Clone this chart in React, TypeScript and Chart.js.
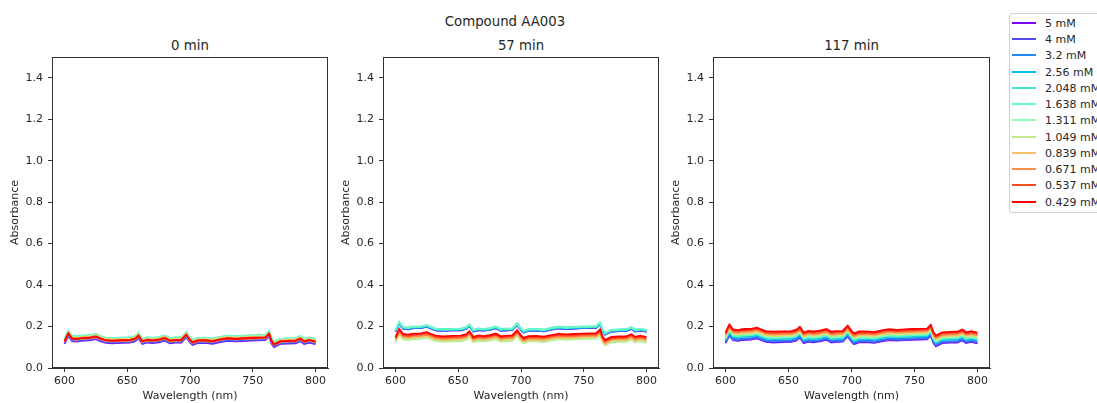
import React, { useEffect, useRef } from 'react';
import { Chart, registerables } from 'chart.js';

Chart.register(...registerables);

const FONT = "'DejaVu Sans', sans-serif";
const TEXT = '#262626';

// ---- data ----
const concentrations = ['5 mM', '4 mM', '3.2 mM', '2.56 mM', '2.048 mM', '1.638 mM', '1.311 mM', '1.049 mM', '0.839 mM', '0.671 mM', '0.537 mM', '0.429 mM'];
const seriesColors = ['#8000ff', '#5148fc', '#238af5', '#0cc1e8', '#3ae8d7', '#68fcc1', '#97fca7', '#c5e88a', '#f3c16a', '#ff8a48', '#ff4824', '#ff0000'];
const panelTitles = ['0 min', '57 min', '117 min'];

const wavelengths = [600, 603, 606, 610, 613, 616, 620, 625, 628, 632, 638, 645, 652, 656, 659, 662, 666, 670, 675, 680, 684, 688, 693, 697, 700, 702, 706, 712, 718, 724, 730, 736, 742, 748, 754, 760, 763, 765, 767, 772, 778, 784, 788, 791, 795, 800];
// spectrum at 0 min
const baseProfile = [0.128, 0.166, 0.142, 0.139, 0.143, 0.144, 0.145, 0.151, 0.143, 0.134, 0.131, 0.133, 0.134, 0.140, 0.155, 0.128, 0.135, 0.132, 0.136, 0.144, 0.131, 0.134, 0.135, 0.160, 0.135, 0.123, 0.132, 0.133, 0.129, 0.137, 0.143, 0.140, 0.142, 0.144, 0.145, 0.146, 0.164, 0.130, 0.113, 0.128, 0.130, 0.131, 0.141, 0.128, 0.134, 0.127];
// level of each concentration relative to that trace, per time point
const offsets0 = [-0.012, -0.009, -0.005, 0.008, 0.013, 0.012, 0.009, 0.007, 0.004, -0.003, 0.002, 0.0];
const offsets57 = [0.048, 0.048, 0.050, 0.052, 0.056, 0.054, -0.004, -0.002, 0.005, 0.010, 0.016, 0.022];
const offsets117 = [-0.008, -0.005, 0.0, 0.008, 0.012, 0.015, 0.020, 0.022, 0.027, 0.032, 0.038, 0.044];
const panelOffsets = [offsets0, offsets57, offsets117];

const xTicks = [600, 650, 700, 750, 800];
const yTicks = [0, 0.2, 0.4, 0.6, 0.8, 1.0, 1.2, 1.4];

// ---- layout ----
const W = 1097;
const H = 403;
const PLOT_TOP = 57;
const PLOT_BOTTOM = 368;
const AXIS_W = 52;
const panelLeft = [52, 383, 713];
const panelRight = [328, 659, 990];

const framePlugin = {
  id: 'frame',
  afterDraw(chart: any) {
    const { ctx, chartArea } = chart;
    ctx.save();
    ctx.strokeStyle = '#333';
    ctx.lineWidth = 1;
    ctx.strokeRect(Math.round(chartArea.left) + 0.5, Math.round(chartArea.top) + 0.5, Math.round(chartArea.right - chartArea.left) - 1, Math.round(chartArea.bottom - chartArea.top) - 1);
    ctx.restore();
  },
};

function Panel({ idx }: { idx: number }) {
  const ref = useRef<HTMLCanvasElement>(null);
  const cw = panelRight[idx] - panelLeft[idx] + AXIS_W + 2;
  useEffect(() => {
    const offs = panelOffsets[idx];
    const datasets = concentrations.map((c, i) => ({
      label: c,
      data: wavelengths.map((w, j) => ({ x: w, y: baseProfile[j] + offs[i] })),
      borderColor: seriesColors[i],
      backgroundColor: seriesColors[i],
      borderWidth: 1.8,
      pointRadius: 0,
      fill: false,
      tension: 0,
      order: concentrations.length - 1 - i,
    }));
    const chart = new Chart(ref.current as HTMLCanvasElement, {
      type: 'line',
      data: { datasets },
      options: {
        animation: false,
        responsive: false,
        maintainAspectRatio: false,
        devicePixelRatio: 1,
        layout: { padding: { left: 0, right: 2, top: PLOT_TOP, bottom: 0 } },
        plugins: { legend: { display: false }, title: { display: false }, tooltip: { enabled: false } },
        scales: {
          x: {
            type: 'linear',
            min: 590,
            max: 810,
            afterBuildTicks: (s: any) => { s.ticks = xTicks.map((v) => ({ value: v })); },
            afterFit: (s: any) => { s.height = H - PLOT_BOTTOM; },
            ticks: { color: TEXT, font: { family: FONT, size: 11 }, padding: 3, maxRotation: 0, callback: (v: any) => String(v) },
            grid: { drawOnChartArea: false, tickLength: 4, color: '#333', lineWidth: 1 },
            border: { color: '#333', width: 1 },
            title: { display: true, text: 'Wavelength (nm)', color: TEXT, font: { family: FONT, size: 11 }, padding: { top: 0, bottom: 0 } },
          },
          y: {
            type: 'linear',
            min: 0,
            max: 1.5,
            afterBuildTicks: (s: any) => { s.ticks = yTicks.map((v) => ({ value: v })); },
            afterFit: (s: any) => { s.width = AXIS_W; },
            ticks: { color: TEXT, font: { family: FONT, size: 11 }, padding: 5, callback: (v: any) => Number(v).toFixed(1) },
            grid: { drawOnChartArea: false, tickLength: 4, color: '#333', lineWidth: 1 },
            border: { color: '#333', width: 1 },
            title: { display: true, text: 'Absorbance', color: TEXT, font: { family: FONT, size: 11 }, padding: { top: 9, bottom: 0 } },
          },
        },
      },
      plugins: [framePlugin],
    } as any);
    return () => chart.destroy();
  }, [idx]);
  return (
    <canvas
      ref={ref}
      width={cw}
      height={H}
      style={{ position: 'absolute', left: panelLeft[idx] - AXIS_W, top: 0, width: cw, height: H }}
    />
  );
}

export default function App() {
  const legendTop = 13;
  const rowH = 16.27;
  return (
    <div style={{ position: 'absolute', left: 0, top: 0, width: W, height: H, overflow: 'hidden', background: '#fff', fontFamily: FONT, color: TEXT }}>
      <div style={{ position: 'absolute', left: 505 - 150, width: 300, top: 22 - 8, height: 16, lineHeight: '16px', textAlign: 'center', fontSize: 13.3 }}>Compound AA003</div>
      {panelTitles.map((t, i) => (
        <div key={t} style={{ position: 'absolute', left: (panelLeft[i] + panelRight[i]) / 2 - 100, width: 200, top: 46 - 8, height: 16, lineHeight: '16px', textAlign: 'center', fontSize: 13.3 }}>{t}</div>
      ))}
      {[0, 1, 2].map((i) => <Panel key={i} idx={i} />)}
      <div style={{ position: 'absolute', left: 1009, top: legendTop, width: 120, height: 200, border: '1px solid #d0d0d0', borderRadius: 3, boxSizing: 'border-box', background: '#fff' }} />
      {concentrations.map((c, i) => (
        <div key={c} style={{ position: 'absolute', left: 1012, top: Math.round(22.7 + rowH * i) - 8, height: 16, display: 'flex', alignItems: 'center', whiteSpace: 'nowrap', fontSize: 11 }}>
          <div style={{ width: 24, height: 2, background: seriesColors[i] }} />
          <span style={{ marginLeft: 9 }}>{c}</span>
        </div>
      ))}
    </div>
  );
}
